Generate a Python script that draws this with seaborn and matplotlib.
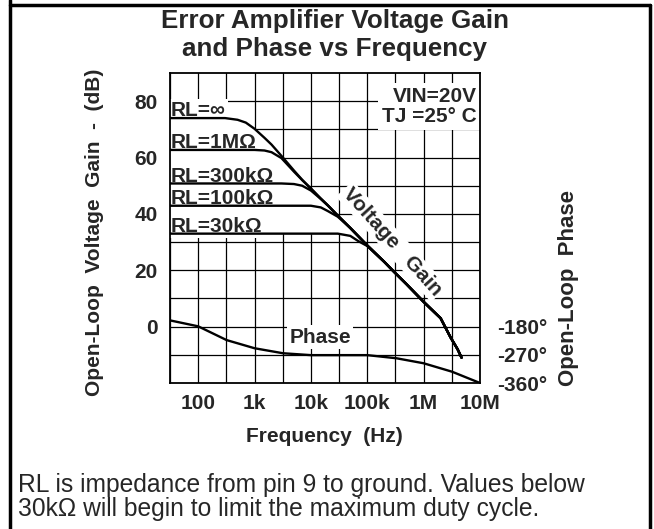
import numpy as np
import pandas as pd
import seaborn as sns
import matplotlib.pyplot as plt
from matplotlib.lines import Line2D
from matplotlib.ticker import FixedLocator, NullFormatter

# gain curves (dB), one value per frequency point
freq = [30, 100, 300, 500, 700, 1e3, 1.5e3, 2e3, 3e3, 5e3, 7e3, 1e4, 1.5e4, 2e4,
        3e4, 5e4, 7e4, 1e5, 2e5, 3e5, 5e5, 1e6, 1.5e6, 2e6, 3e6, 4e6, 4.7e6]
gain_inf = [74.0, 74.0, 74.0, 73.4, 72.4, 70.2, 67.0, 64.6, 60.6, 55.4, 52.1, 49.0, 45.4, 43.0,
            39.4, 35.0, 32.0, 28.8, 23.0, 19.4, 15.0, 8.8, 5.4, 3.0, -3.8, -8.0, -11.0]
gain_1m = [62.7, 62.7, 62.7, 62.7, 62.7, 62.7, 62.5, 61.9, 59.8, 55.0, 52.0, 49.0, 45.4, 43.0,
           39.4, 35.0, 32.0, 28.8, 23.0, 19.4, 15.0, 8.8, 5.4, 3.0, -3.8, -8.0, -11.0]
gain_300k = [50.8, 50.8, 50.8, 50.8, 50.8, 50.8, 50.8, 50.8, 50.8, 50.6, 50.0, 48.3, 45.3, 43.0,
             39.4, 35.0, 32.0, 28.8, 23.0, 19.4, 15.0, 8.8, 5.4, 3.0, -3.8, -8.0, -11.0]
gain_100k = [42.9, 42.9, 42.9, 42.9, 42.9, 42.9, 42.9, 42.9, 42.9, 42.9, 42.9, 42.9, 42.3, 41.0,
             39.0, 35.0, 32.0, 28.8, 23.0, 19.4, 15.0, 8.8, 5.4, 3.0, -3.8, -8.0, -11.0]
gain_30k = [33.0, 33.0, 33.0, 33.0, 33.0, 33.0, 33.0, 33.0, 33.0, 33.0, 33.0, 33.0, 33.0, 33.0,
            33.0, 32.2, 30.3, 28.6, 23.0, 19.4, 15.0, 8.8, 5.4, 3.0, -3.8, -8.0, -11.0]
curve_names = ['RL=∞', 'RL=1MΩ', 'RL=300kΩ', 'RL=100kΩ', 'RL=30kΩ']

# phase curve (degrees)
phase_freq = [31.6, 100, 320, 1e3, 3.2e3, 1e4, 3.3e4, 1e5, 3.3e5, 1e6, 3.2e6, 1e7]
phase_deg = [-160, -179, -223, -249, -265, -271, -271, -271, -281, -297, -324, -360]

x_ticks = [100, 1e3, 1e4, 1e5, 1e6, 1e7]
x_labels = ['100', '1k', '10k', '100k', '1M', '10M']
y_ticks = [0, 20, 40, 60, 80]
phase_ticks = [-180, -270, -360]

sns.set_style('white')
plt.rcParams['font.family'] = ['Liberation Sans', 'DejaVu Sans']
plt.rcParams['font.weight'] = 'bold'

gains = [gain_inf, gain_1m, gain_300k, gain_100k, gain_30k]
df = pd.DataFrame({
    'freq': freq * len(gains),
    'gain': sum(gains, []),
    'curve': np.repeat(curve_names, len(freq)),
})
df_phase = pd.DataFrame({'freq': phase_freq, 'phase': phase_deg})

fig = plt.figure(figsize=(6.54, 5.29), dpi=100)
ax = fig.add_axes([170 / 654, 1 - 383 / 529, 310 / 654, 310 / 529])

sns.lineplot(data=df, x='freq', y='gain', units='curve', estimator=None,
             color='black', lw=1.7, ax=ax, zorder=3)

# blank the grid between the gain curves, as the datasheet does
ax.fill_between(freq[:18], gain_30k[:18], gain_inf[:18], color='white', lw=0, zorder=1)

ax.set_xscale('log')
ax.set_xlim(10 ** 1.5, 1e7)
ax.set_ylim(-20, 90)
ax.xaxis.set_major_locator(FixedLocator(x_ticks))
ax.xaxis.set_minor_locator(FixedLocator([10 ** (k + 0.5) for k in range(1, 7)]))
ax.xaxis.set_minor_formatter(NullFormatter())
ax.set_xticklabels(x_labels)
ax.yaxis.set_major_locator(FixedLocator(y_ticks))
ax.yaxis.set_minor_locator(FixedLocator([-10, 10, 30, 50, 70]))
ax.set_axisbelow(True)
ax.grid(which='both', color='black', lw=0.9)
ax.tick_params(axis='y', which='both', length=0, labelsize=15, pad=9)
ax.tick_params(axis='x', which='both', length=0, labelsize=15, pad=8)
for s in ax.spines.values():
    s.set_color('black')
    s.set_linewidth(1.3)
ax.set_xlabel('')
ax.set_ylabel('')

ax2 = ax.twinx()
sns.lineplot(data=df_phase, x='freq', y='phase', color='black', lw=1.7, ax=ax2)
ax2.set_ylim(-360, -360 + 110 * 9)
ax2.set_yticks(phase_ticks)
ax2.set_yticklabels([f'{t}°' for t in phase_ticks])
ax2.tick_params(length=0, labelsize=15, pad=12)
ax2.set_ylabel('')
for s in ax2.spines.values():
    s.set_visible(False)

box = dict(facecolor='white', edgecolor='none', pad=1.5)
levels = [74.0, 62.7, 50.8, 42.9, 33.0]
for name, lvl in zip(curve_names, levels):
    ax.text(33, lvl + 0.7, name, fontsize=15, va='baseline', ha='left', bbox=box, zorder=2)

ax.text(0.99, 0.955, 'VIN=20V\nTJ =25° C', transform=ax.transAxes, fontsize=15,
        ha='right', va='top', linespacing=1.05, bbox=dict(facecolor='white', edgecolor='none', pad=3), zorder=2)
ax.text(2.75e5, 30.2, 'Voltage   Gain', fontsize=15, rotation=-48, ha='center', va='center',
        bbox=box, zorder=2)
ax.text(1.45e4, -3.7, 'Phase', fontsize=15, ha='center', va='center', bbox=box, zorder=2)

ax.text(-0.242, 0.487, 'Open-Loop  Voltage  Gain  -  (dB)', transform=ax.transAxes,
        rotation=90, fontsize=15, ha='center', va='center')
ax.text(1.284, 0.306, 'Open-Loop  Phase', transform=ax.transAxes,
        rotation=90, fontsize=16, ha='center', va='center')
ax.text(0.497, -0.174, 'Frequency  (Hz)', transform=ax.transAxes,
        fontsize=15, ha='center', va='center')

fig.text(335 / 654, 1 - 35 / 529, 'Error Amplifier Voltage Gain\nand Phase vs Frequency',
         fontsize=18.7, ha='center', va='center', linespacing=1.2)
fig.text(18 / 654, 1 - 497 / 529, 'RL is impedance from pin 9 to ground. Values below\n'
         '30kΩ will begin to limit the maximum duty cycle.',
         fontsize=17.7, fontweight='normal', ha='left', va='center', linespacing=1.0)

# outer frame
for xs, ys in [([10, 10], [0, 529]), ([10, 650], [5, 5]), ([650, 650], [5, 529])]:
    fig.add_artist(Line2D([x / 654 for x in xs], [1 - y / 529 for y in ys], color='black', lw=2.5))

fig.savefig('out.png', dpi=100)
